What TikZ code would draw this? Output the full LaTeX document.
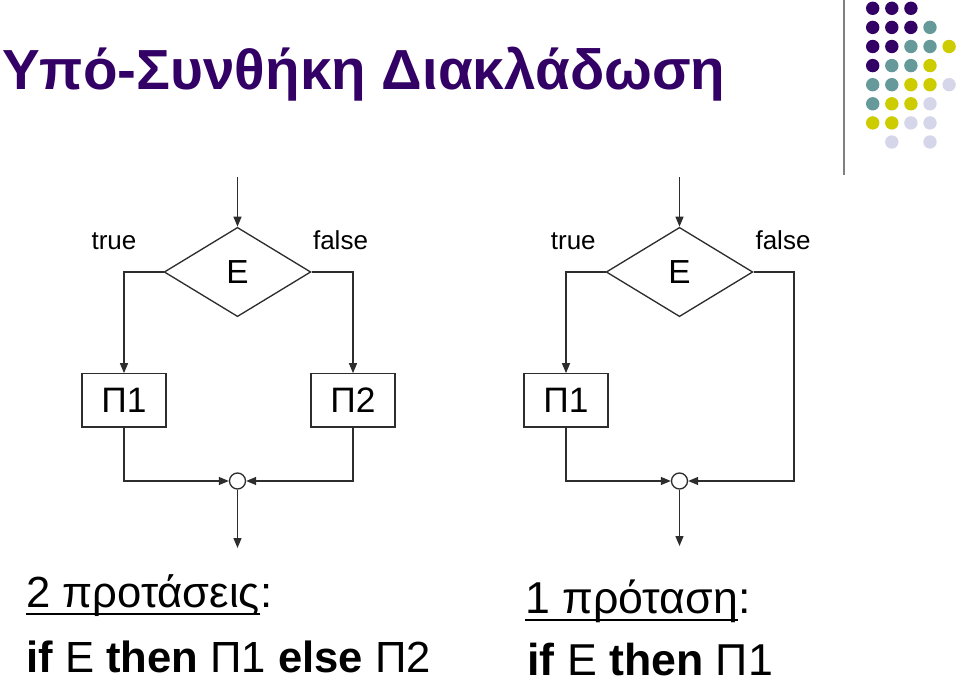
\documentclass[tikz,border=0pt]{standalone}
\usepackage{fontspec}
\setmainfont{Liberation Sans}
\usetikzlibrary{arrows.meta,shapes.geometric}
\definecolor{titlepurple}{RGB}{51,0,102}
\definecolor{dotteal}{RGB}{102,153,153}
\definecolor{dotyellow}{RGB}{204,204,0}
\definecolor{dotlilac}{RGB}{214,214,234}
\definecolor{linegray}{RGB}{45,45,45}

\begin{document}
\begin{tikzpicture}[
  x=0.75pt,y=-0.75pt,
  cond/.style={diamond,draw=linegray,line width=1pt,
               minimum width=110pt,minimum height=67pt,
               inner sep=0pt,font=\fontsize{25}{29}\selectfont},
  stmt/.style={rectangle,draw=linegray,line width=1pt,
               minimum width=63pt,minimum height=40pt,
               inner sep=0pt,font=\fontsize{26.5}{30}\selectfont},
  joinpt/.style={circle,draw=linegray,line width=1pt,fill=white,
                 minimum size=12pt,inner sep=0pt},
  lbl/.style={anchor=base,inner sep=0pt,font=\fontsize{19.5}{23}\selectfont},
  arr/.style={-{Triangle[length=7.5pt,width=6pt]},line width=1pt,draw=linegray},
  codeline/.style={anchor=base west,inner sep=0pt,font=\fontsize{32.7}{38}\selectfont},
  codeline2/.style={codeline,font=\fontsize{33.5}{38}\selectfont},
  uline/.style={line width=1.5pt},
]
\useasboundingbox (0,0) rectangle (960,680);

%% Title and corner decoration
\node[anchor=base west,inner sep=0pt,text=titlepurple,
      font=\bfseries\fontsize{42.4}{48}\selectfont] (title) at (2,90)
      {Υπό-Συνθήκη Διακλάδωση};
\draw[gray,line width=1.5pt] (844,0) -- (844,175);
\foreach \c/\r/\col in {0/0/titlepurple,1/0/titlepurple,2/0/titlepurple,
    0/1/titlepurple,1/1/titlepurple,2/1/titlepurple,3/1/dotteal,
    0/2/titlepurple,1/2/titlepurple,2/2/dotteal,3/2/dotteal,4/2/dotyellow,
    0/3/titlepurple,1/3/dotteal,2/3/dotteal,3/3/dotyellow,
    0/4/dotteal,1/4/dotteal,2/4/dotyellow,3/4/dotyellow,4/4/dotlilac,
    0/5/dotteal,1/5/dotyellow,2/5/dotyellow,3/5/dotlilac,
    0/6/dotyellow,1/6/dotyellow,2/6/dotlilac,3/6/dotlilac,
    1/7/dotlilac,3/7/dotlilac}
  \fill[\col] ({872.7+19.1*\c},{8.3+19.1*\r}) circle[radius=6.7];

%% Left: two statements
\coordinate (inA) at (237.5,177);
\node[cond] (condA) at (237.5,272) {E};
\node[stmt] (stA1) at (124,400.5) {Π1};
\node[stmt] (stA2) at (353,400.5) {Π2};
\node[joinpt] (jA) at (237.5,481) {};
\coordinate (outA) at (237.5,548);
\node[lbl] (trueA)  at (114,250)   {true};
\node[lbl] (falseA) at (340.5,250) {false};

\draw[arr] (inA) -- (condA.north);
\draw[arr] (condA.west) -| (stA1.north);
\draw[arr] (condA.east) -| (stA2.north);
\draw[arr] (stA1.south) |- (jA.west);
\draw[arr] (stA2.south) |- (jA.east);
\draw[arr] (jA.south) -- (outA);

%% Right: one statement
\coordinate (inB) at (679.5,177);
\node[cond] (condB) at (679.5,272) {E};
\node[stmt] (stB1) at (566,400.5) {Π1};
\node[joinpt] (jB) at (679.5,481) {};
\coordinate (skipB) at (794,481);
\coordinate (outB) at (679.5,546);
\node[lbl] (trueB)  at (573.3,250) {true};
\node[lbl] (falseB) at (783,250)   {false};

\draw[arr] (inB) -- (condB.north);
\draw[arr] (condB.west) -| (stB1.north);
\draw[arr] (condB.east) -| (skipB) -- (jB.east);
\draw[arr] (stB1.south) |- (jB.west);
\draw[arr] (jB.south) -- (outB);

%% Code captions
\node[codeline] (headA) at (26,607) {2 προτάσεις};
\node[codeline] (colonA) at (headA.base east) {:};
\draw[uline] ([yshift=-5.25pt]headA.base west) -- ([yshift=-5.25pt]headA.base east);
\node[codeline] (ifA) at (26,672)
  {\textbf{if} E \textbf{then} Π1 \textbf{else} Π2};

\node[codeline2] (headB) at (525,613) {1 πρόταση};
\node[codeline2] (colonB) at (headB.base east) {:};
\draw[uline] ([yshift=-5.25pt]headB.base west) -- ([yshift=-5.25pt]headB.base east);
\node[codeline2] (ifB) at (527,675) {\textbf{if} E \textbf{then} Π1};

\end{tikzpicture}
\end{document}
